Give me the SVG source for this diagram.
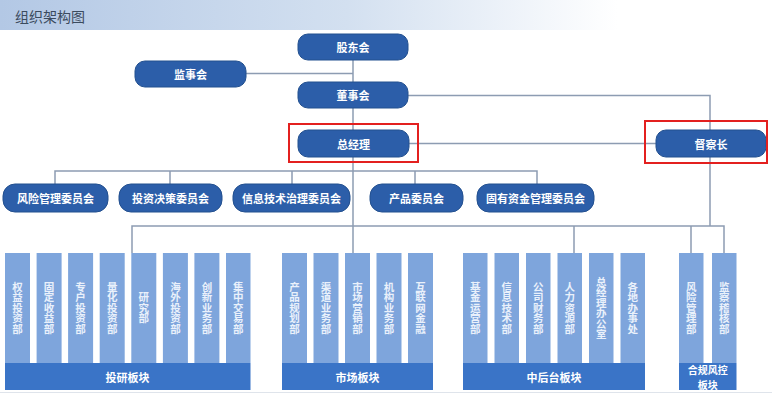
<svg xmlns="http://www.w3.org/2000/svg" width="772" height="403" viewBox="0 0 772 403">
<defs>
<linearGradient id="hdr" x1="0" y1="0" x2="1" y2="0">
<stop offset="0" stop-color="#b3c8e5"/>
<stop offset="0.45" stop-color="#d3e0f0"/>
<stop offset="0.8" stop-color="#ffffff"/>
</linearGradient>
<style>
.node{fill:#2c5ea9;stroke:#23508f;stroke-width:1}
.nt{font-family:"Noto Sans CJK SC",sans-serif;font-size:11px;font-weight:bold;fill:#ffffff;text-anchor:middle;dominant-baseline:central}
.col{fill:#7ea5dc}
.ban{fill:#3a74c7}
.vt{font-family:"Noto Sans CJK SC",sans-serif;font-size:10.5px;font-weight:bold;fill:#eaf1fb;text-anchor:middle;writing-mode:vertical-rl}
.bt{font-family:"Noto Sans CJK SC",sans-serif;font-size:11px;font-weight:bold;fill:#ffffff;text-anchor:middle;dominant-baseline:central}
.bt2{font-family:"Noto Sans CJK SC",sans-serif;font-size:10px;font-weight:bold;fill:#ffffff;text-anchor:middle;dominant-baseline:central}
.conn{stroke:#8d9cb2;stroke-width:1.5;fill:none}
.hl{fill:none;stroke:#e3201f;stroke-width:2}
</style>
</defs>
<rect width="772" height="403" fill="#ffffff"/>
<rect x="0" y="0" width="772" height="30" fill="url(#hdr)"/>
<text x="15" y="15.5" font-family="Noto Sans CJK SC, sans-serif" font-size="14" fill="#3b4b5e" dominant-baseline="central">组织架构图</text>
<line x1="0" y1="392.5" x2="772" y2="392.5" stroke="#dfe4eb" stroke-width="1"/>

<g id="connectors" class="conn">
<path d="M353 47V253"/>
<path d="M246 73.5H353"/>
<path d="M408 95.5H710V226"/>
<path d="M409 143.5H656"/>
<path d="M55 184V171H537V184M170 171V184M292 171V184M415 171V184"/>
<path d="M132 253V226H724V253M574 226V253M691 226V253"/>
</g>

<g id="n-gudonghui"><rect class="node" x="298" y="34" width="110" height="26" rx="10"/><text class="nt" x="353" y="47">股东会</text></g>
<g id="n-jianshihui"><rect class="node" x="135" y="61" width="111" height="26" rx="10"/><text class="nt" x="190.5" y="74">监事会</text></g>
<g id="n-dongshihui"><rect class="node" x="298" y="82" width="110" height="26" rx="10"/><text class="nt" x="353" y="95">董事会</text></g>
<g id="n-zongjingli"><rect class="node" x="298" y="130" width="111" height="27" rx="10"/><text class="nt" x="353.5" y="143.5">总经理</text><rect class="hl" x="289" y="124" width="129" height="38"/></g>
<g id="n-ducazhang"><rect class="node" x="656" y="130" width="110" height="27" rx="10"/><text class="nt" x="711" y="143.5">督察长</text><rect class="hl" x="645" y="121" width="122" height="42"/></g>

<g id="c-fengxian"><rect class="node" x="3" y="184" width="105" height="28" rx="12"/><text class="nt" x="55.5" y="198">风险管理委员会</text></g>
<g id="c-touzi"><rect class="node" x="119" y="184" width="103" height="28" rx="12"/><text class="nt" x="170.5" y="198">投资决策委员会</text></g>
<g id="c-xinxi"><rect class="node" x="233" y="184" width="117" height="28" rx="12"/><text class="nt" x="291.5" y="198">信息技术治理委员会</text></g>
<g id="c-chanpin"><rect class="node" x="370" y="184" width="93" height="28" rx="12"/><text class="nt" x="416.5" y="198">产品委员会</text></g>
<g id="c-guyou"><rect class="node" x="477" y="184" width="117" height="28" rx="12"/><text class="nt" x="535.5" y="198">固有资金管理委员会</text></g>

<g id="g-touyan">
<rect class="col" x="5" y="253" width="25" height="110"/>
<rect class="col" x="36.6" y="253" width="25" height="110"/>
<rect class="col" x="68.1" y="253" width="25" height="110"/>
<rect class="col" x="99.7" y="253" width="25" height="110"/>
<rect class="col" x="131.3" y="253" width="25" height="110"/>
<rect class="col" x="162.9" y="253" width="25" height="110"/>
<rect class="col" x="194.4" y="253" width="25" height="110"/>
<rect class="col" x="226" y="253" width="24.5" height="110"/>
<rect class="ban" x="5" y="363" width="245.5" height="27"/>
<text class="bt" x="127.5" y="376.5">投研板块</text>
<text class="vt" x="17.5" y="308">权益投资部</text>
<text class="vt" x="49.1" y="308">固定收益部</text>
<text class="vt" x="80.6" y="308">专户投资部</text>
<text class="vt" x="112.2" y="308">量化投资部</text>
<text class="vt" x="143.8" y="308">研究部</text>
<text class="vt" x="175.4" y="308">海外投资部</text>
<text class="vt" x="206.9" y="308">创新业务部</text>
<text class="vt" x="238.3" y="308">集中交易部</text>
</g>

<g id="g-shichang">
<rect class="col" x="282" y="253" width="25" height="110"/>
<rect class="col" x="313.5" y="253" width="25" height="110"/>
<rect class="col" x="345" y="253" width="25" height="110"/>
<rect class="col" x="376.5" y="253" width="25" height="110"/>
<rect class="col" x="408" y="253" width="25" height="110"/>
<rect class="ban" x="282" y="363" width="151" height="27"/>
<text class="bt" x="357.5" y="376.5">市场板块</text>
<text class="vt" x="294.5" y="308">产品规划部</text>
<text class="vt" x="326" y="308">渠道业务部</text>
<text class="vt" x="357.5" y="308">市场营销部</text>
<text class="vt" x="389" y="308">机构业务部</text>
<text class="vt" x="420.5" y="308">互联网金融</text>
</g>

<g id="g-zhonghoutai">
<rect class="col" x="463" y="253" width="24.5" height="110"/>
<rect class="col" x="494.5" y="253" width="24.5" height="110"/>
<rect class="col" x="526" y="253" width="24.5" height="110"/>
<rect class="col" x="557.5" y="253" width="24.5" height="110"/>
<rect class="col" x="589" y="253" width="24.5" height="110"/>
<rect class="col" x="620.5" y="253" width="24.5" height="110"/>
<rect class="ban" x="463" y="363" width="182" height="27"/>
<text class="bt" x="554" y="376.5">中后台板块</text>
<text class="vt" x="475.3" y="308">基金运营部</text>
<text class="vt" x="506.8" y="308">信息技术部</text>
<text class="vt" x="538.3" y="308">公司财务部</text>
<text class="vt" x="569.8" y="308">人力资源部</text>
<text class="vt" x="601.3" y="308">总经理办公室</text>
<text class="vt" x="632.8" y="308">各地办事处</text>
</g>

<g id="g-hegui">
<rect class="col" x="679" y="253" width="24.5" height="110"/>
<rect class="col" x="712" y="253" width="24.5" height="110"/>
<rect class="ban" x="679" y="363" width="57.5" height="27"/>
<text class="bt2" x="707.8" y="369">合规风控</text>
<text class="bt2" x="707.8" y="384">板块</text>
<text class="vt" x="691.3" y="308">风险管理部</text>
<text class="vt" x="724.3" y="308">监察稽核部</text>
</g>
</svg>
